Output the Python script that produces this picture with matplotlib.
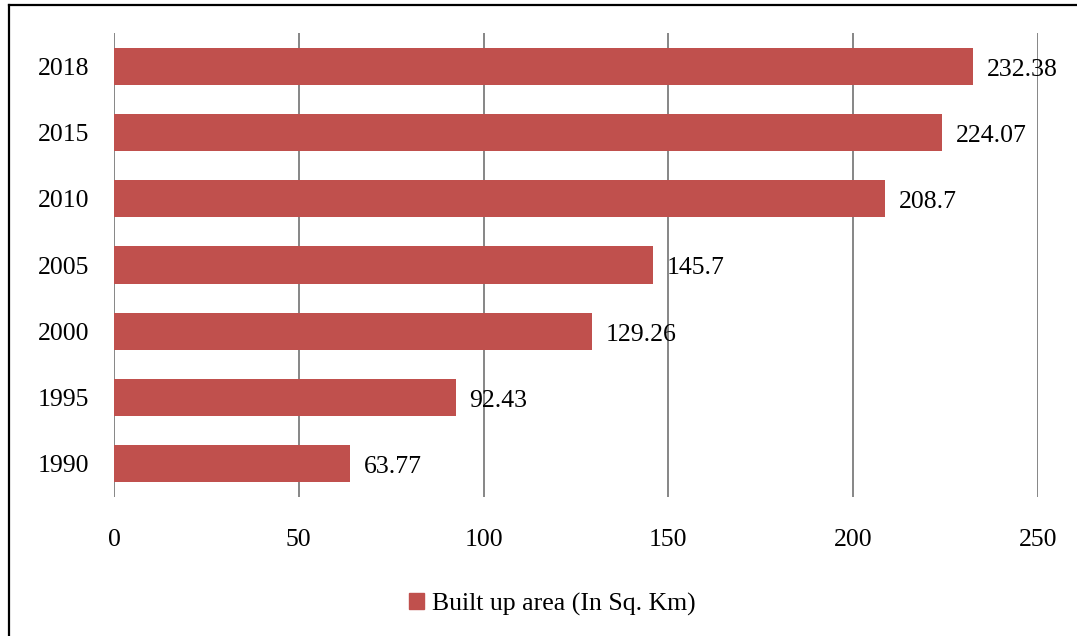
import matplotlib
matplotlib.use("Agg")
import matplotlib.pyplot as plt
from matplotlib.lines import Line2D
from matplotlib.patches import Patch

years = ["1990", "1995", "2000", "2005", "2010", "2015", "2018"]
built_up = [63.77, 92.43, 129.26, 145.7, 208.7, 224.07, 232.38]
value_labels = ["63.77", "92.43", "129.26", "145.7", "208.7", "224.07", "232.38"]
x_ticks = [0, 50, 100, 150, 200, 250]
series_name = "Built up area (In Sq. Km)"

plt.rcParams['font.family'] = ['Liberation Serif', 'DejaVu Serif']

W, H = 1077, 636
fig = plt.figure(figsize=(W / 100, H / 100), dpi=100)
ax = fig.add_axes([114 / W, 1 - 497 / H, (1038 - 114) / W, (497 - 33) / H])

bar_color = "#C0504D"
pos = list(range(len(years)))
ax.barh(pos, built_up, height=0.56, color=bar_color, zorder=3)

for p, v, lab in zip(pos, built_up, value_labels):
    ax.annotate(lab, (v, p), xytext=(10, -2.5), textcoords="offset points",
                va="center", ha="left", fontsize=18.5, color="black", zorder=4)

ax.set_xlim(0, 250)
ax.set_ylim(-0.5, len(years) - 0.5)
ax.set_xticks(x_ticks)
ax.set_xticklabels([str(t) for t in x_ticks])
ax.set_yticks(pos)
ax.set_yticklabels(years)
ax.tick_params(axis="both", length=0, labelsize=18.5)
ax.tick_params(axis="x", pad=23)
ax.tick_params(axis="y", pad=18)
ax.grid(axis="x", color="#868686", linewidth=1.4, zorder=1)
ax.grid(axis="y", visible=False)
for s in ax.spines.values():
    s.set_visible(False)

leg = fig.legend(handles=[Patch(color=bar_color, label=series_name)],
                 loc="center", bbox_to_anchor=(552 / W, 1 - 604 / H),
                 frameon=False, fontsize=18.5, handlelength=0.6, handleheight=0.6,
                 handletextpad=0.3)

# outer border (left and top visible)
fig.add_artist(Line2D([8.5 / W, 8.5 / W], [0, 1 - 5 / H], color="black", linewidth=1.6,
                      transform=fig.transFigure))
fig.add_artist(Line2D([8.5 / W, 1], [1 - 5 / H, 1 - 5 / H], color="black", linewidth=1.6,
                      transform=fig.transFigure))

fig.savefig("out.png", dpi=100)
